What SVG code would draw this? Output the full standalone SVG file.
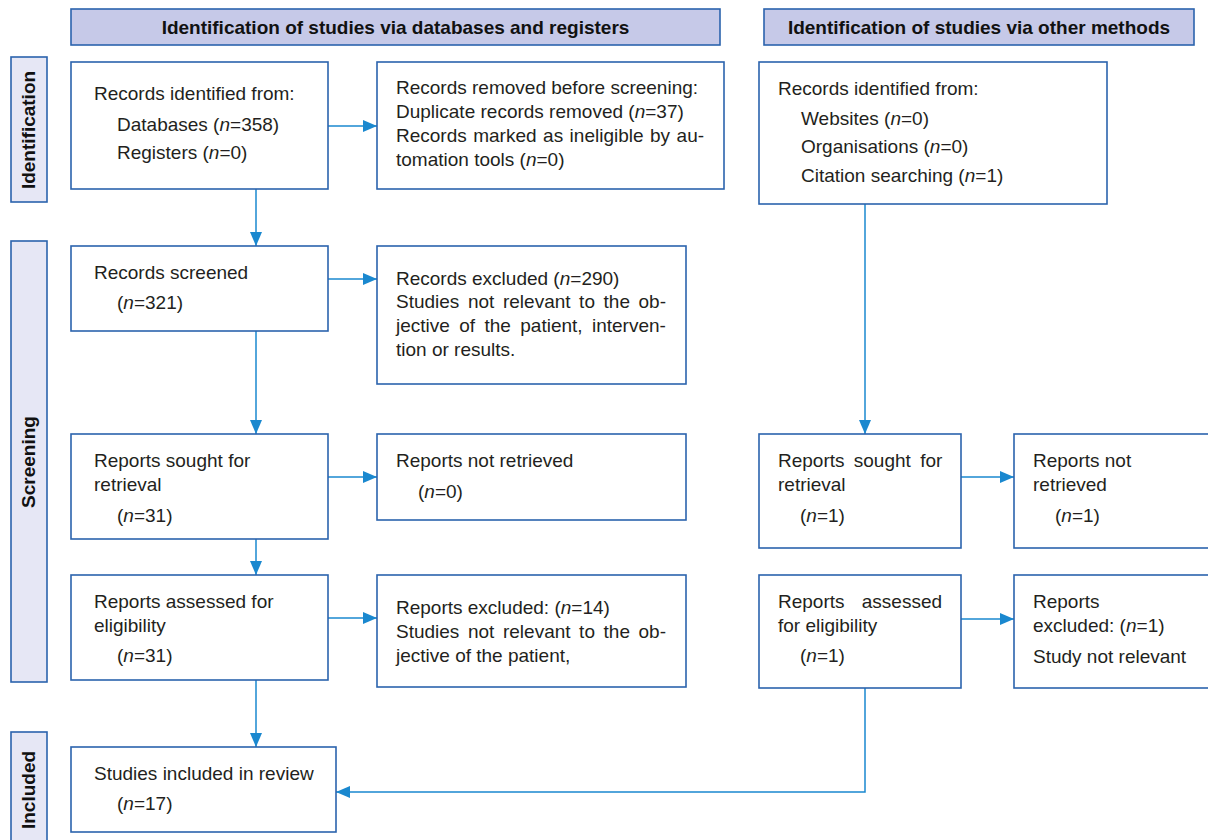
<svg xmlns="http://www.w3.org/2000/svg" width="1208" height="840" viewBox="0 0 1208 840">
<style>
.box{fill:#ffffff;stroke:#2b63ad;stroke-width:1.6}
.hdr{fill:#c6c9e8;stroke:#2b63ad;stroke-width:1.6}
.side{fill:#e6e7f5;stroke:#2b63ad;stroke-width:1.6}
.t{font-family:"Liberation Sans",Arial,sans-serif;font-size:19px;fill:#231f20}
.b{font-family:"Liberation Sans",Arial,sans-serif;font-size:19px;font-weight:bold;fill:#111111}
.i{font-style:italic}
.c{fill:none;stroke:#1a88cf;stroke-width:1.5}
</style>
<defs>
<marker id="ah" viewBox="0 0 14 12" refX="14" refY="6" markerWidth="14" markerHeight="12" markerUnits="userSpaceOnUse" orient="auto">
<path d="M0,0 L14,6 L0,12 z" fill="#1a88cf"/>
</marker>
</defs>
<rect width="1208" height="840" fill="#ffffff"/>

<g id="header-db">
<rect class="hdr" x="71" y="9" width="649" height="36"/>
<text class="b" x="395.5" y="34" text-anchor="middle">Identification of studies via databases and registers</text>
</g>
<g id="header-other">
<rect class="hdr" x="764" y="9" width="430" height="36"/>
<text class="b" x="979" y="34" text-anchor="middle">Identification of studies via other methods</text>
</g>

<g id="side-identification">
<rect class="side" x="11" y="57" width="36" height="145"/>
<text class="b" transform="translate(35,130) rotate(-90)" text-anchor="middle">Identification</text>
</g>
<g id="side-screening">
<rect class="side" x="11" y="241" width="36" height="441"/>
<text class="b" transform="translate(35,462) rotate(-90)" text-anchor="middle">Screening</text>
</g>
<g id="side-included">
<rect class="side" x="11" y="732" width="36" height="120"/>
<text class="b" transform="translate(35,790) rotate(-90)" text-anchor="middle">Included</text>
</g>

<g id="connectors">
<path class="c" d="M328,126 H377" marker-end="url(#ah)"/>
<path class="c" d="M256,189 V246" marker-end="url(#ah)"/>
<path class="c" d="M328,279 H377" marker-end="url(#ah)"/>
<path class="c" d="M256,331 V434" marker-end="url(#ah)"/>
<path class="c" d="M328,477 H377" marker-end="url(#ah)"/>
<path class="c" d="M256,539 V575" marker-end="url(#ah)"/>
<path class="c" d="M328,618 H377" marker-end="url(#ah)"/>
<path class="c" d="M256,680 V747" marker-end="url(#ah)"/>
<path class="c" d="M865,204 V434" marker-end="url(#ah)"/>
<path class="c" d="M961,477 H1014" marker-end="url(#ah)"/>
<path class="c" d="M961,619 H1014" marker-end="url(#ah)"/>
<path class="c" d="M865,688 V792 H336" marker-end="url(#ah)"/>
</g>

<g id="records-identified">
<rect class="box" x="71" y="62" width="257" height="127"/>
<text class="t" x="94" y="100">Records identified from:</text>
<text class="t" x="117" y="131">Databases (<tspan class="i">n</tspan>=358)</text>
<text class="t" x="117" y="159">Registers (<tspan class="i">n</tspan>=0)</text>
</g>

<g id="records-removed">
<rect class="box" x="377" y="62" width="347" height="127"/>
<text class="t" x="396" y="94">Records removed before screening:</text>
<text class="t" x="396" y="118">Duplicate records removed (<tspan class="i">n</tspan>=37)</text>
<text class="t" x="396" y="142" word-spacing="1.2">Records marked as ineligible by au-</text>
<text class="t" x="396" y="166">tomation tools (<tspan class="i">n</tspan>=0)</text>
</g>

<g id="other-records">
<rect class="box" x="759" y="62" width="348" height="142"/>
<text class="t" x="778" y="95">Records identified from:</text>
<text class="t" x="801" y="125">Websites (<tspan class="i">n</tspan>=0)</text>
<text class="t" x="801" y="153">Organisations (<tspan class="i">n</tspan>=0)</text>
<text class="t" x="801" y="182">Citation searching (<tspan class="i">n</tspan>=1)</text>
</g>

<g id="records-screened">
<rect class="box" x="71" y="246" width="257" height="85"/>
<text class="t" x="94" y="279">Records screened</text>
<text class="t" x="117" y="309">(<tspan class="i">n</tspan>=321)</text>
</g>

<g id="records-excluded">
<rect class="box" x="377" y="246" width="309" height="138"/>
<text class="t" x="396" y="285">Records excluded (<tspan class="i">n</tspan>=290)</text>
<text class="t" x="396" y="308" word-spacing="3.3">Studies not relevant to the ob-</text>
<text class="t" x="396" y="332" word-spacing="4.1">jective of the patient, interven-</text>
<text class="t" x="396" y="356">tion or results.</text>
</g>

<g id="reports-sought">
<rect class="box" x="71" y="434" width="257" height="105"/>
<text class="t" x="94" y="467">Reports sought for</text>
<text class="t" x="94" y="491">retrieval</text>
<text class="t" x="117" y="522">(<tspan class="i">n</tspan>=31)</text>
</g>

<g id="reports-not-retrieved">
<rect class="box" x="377" y="434" width="309" height="86"/>
<text class="t" x="396" y="467">Reports not retrieved</text>
<text class="t" x="418" y="498">(<tspan class="i">n</tspan>=0)</text>
</g>

<g id="reports-assessed">
<rect class="box" x="71" y="575" width="257" height="105"/>
<text class="t" x="94" y="608">Reports assessed for</text>
<text class="t" x="94" y="632">eligibility</text>
<text class="t" x="117" y="662">(<tspan class="i">n</tspan>=31)</text>
</g>

<g id="reports-excluded">
<rect class="box" x="377" y="575" width="309" height="112"/>
<text class="t" x="396" y="614">Reports excluded: (<tspan class="i">n</tspan>=14)</text>
<text class="t" x="396" y="638" word-spacing="3.3">Studies not relevant to the ob-</text>
<text class="t" x="396" y="662">jective of the patient,</text>
</g>

<g id="studies-included">
<rect class="box" x="71" y="747" width="265" height="85"/>
<text class="t" x="94" y="780">Studies included in review</text>
<text class="t" x="117" y="810">(<tspan class="i">n</tspan>=17)</text>
</g>

<g id="other-reports-sought">
<rect class="box" x="759" y="434" width="202" height="114"/>
<text class="t" x="778" y="467" word-spacing="4">Reports sought for</text>
<text class="t" x="778" y="491">retrieval</text>
<text class="t" x="800" y="522">(<tspan class="i">n</tspan>=1)</text>
</g>

<g id="other-reports-not-retrieved">
<rect class="box" x="1014" y="434" width="200" height="114"/>
<text class="t" x="1033" y="467">Reports not</text>
<text class="t" x="1033" y="491">retrieved</text>
<text class="t" x="1055" y="522">(<tspan class="i">n</tspan>=1)</text>
</g>

<g id="other-reports-assessed">
<rect class="box" x="759" y="575" width="202" height="113"/>
<text class="t" x="778" y="608" word-spacing="12">Reports assessed</text>
<text class="t" x="778" y="632">for eligibility</text>
<text class="t" x="800" y="662">(<tspan class="i">n</tspan>=1)</text>
</g>

<g id="other-reports-excluded">
<rect class="box" x="1014" y="575" width="200" height="113"/>
<text class="t" x="1033" y="608">Reports</text>
<text class="t" x="1033" y="632">excluded: (<tspan class="i">n</tspan>=1)</text>
<text class="t" x="1033" y="663">Study not relevant</text>
</g>
</svg>
